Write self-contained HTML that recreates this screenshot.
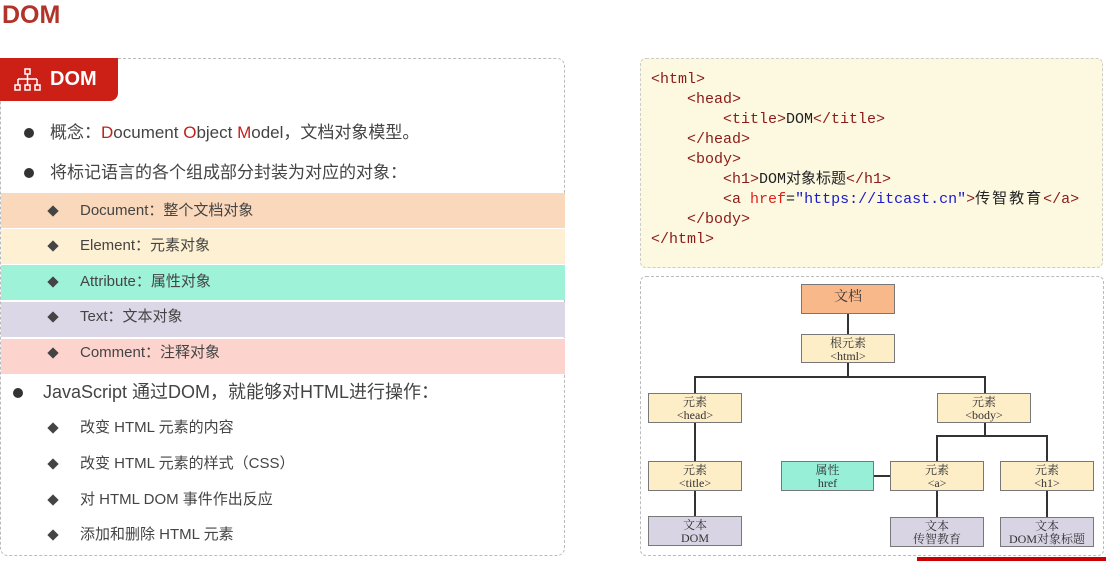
<!DOCTYPE html>
<html><head><meta charset="utf-8"><style>
body{margin:0;width:1106px;height:561px;background:#fff;position:relative;overflow:hidden;font-family:"Liberation Sans","Noto Sans CJK SC",sans-serif;color:#333}
.a{position:absolute}
.row{position:absolute;left:1px;width:564px;height:35px}
.it{position:absolute;left:80px;font-size:15px;color:#444;line-height:20px}
.dm{position:absolute;left:49px;width:8px;height:8px;background:#444;transform:rotate(45deg)}
.code{font-family:"Liberation Mono","Noto Sans CJK SC",monospace;font-size:15px;line-height:20px;color:#8b1a1a;position:absolute;white-space:pre}
.n{position:absolute;border:1px solid #777;box-sizing:border-box;text-align:center;font-family:"Liberation Serif","Noto Serif CJK SC",serif;font-size:12px;line-height:13px;color:#333;padding-top:2px}
.y{background:#fdeec8}.p{background:#d8d4e4}.g{background:#98efd8}
.l{position:absolute;background:#333}
</style></head><body>
<div class="a" style="left:2px;top:0;font-size:25px;font-weight:bold;color:#b23329;line-height:30px">DOM</div>
<div class="a" style="left:0;top:58px;width:565px;height:498px;border:1px dashed #bbb;border-radius:8px;box-sizing:border-box"></div>
<div class="a" style="left:0;top:58px;width:118px;height:43px;background:#cc1f16;border-radius:0 0 8px 0"></div>
<svg class="a" style="left:13px;top:67px" width="30" height="28" viewBox="0 0 30 28"><g fill="none" stroke="#fff" stroke-width="1.5"><rect x="12" y="2" width="5" height="5"/><path d="M14.5 7v5M5 12h19M5 12v6M14.5 12v6M24 12v6"/><rect x="2" y="18" width="5" height="5"/><rect x="12" y="18" width="5" height="5"/><rect x="22" y="18" width="5" height="5"/></g></svg>
<div class="a" style="left:50px;top:66px;color:#fff;font-weight:bold;font-size:20px;line-height:26px">DOM</div>

<div class="a" style="left:24px;top:128px;width:10px;height:10px;border-radius:50%;background:#333"></div>
<div class="a" style="left:50px;top:122px;font-size:17px;color:#444;line-height:22px">概念：<span style="color:#c0211a">D</span>ocument <span style="color:#c0211a">O</span>bject <span style="color:#c0211a">M</span>odel，文档对象模型。</div>
<div class="a" style="left:24px;top:168px;width:10px;height:10px;border-radius:50%;background:#333"></div>
<div class="a" style="left:50px;top:162px;font-size:17px;color:#444;line-height:22px">将标记语言的各个组成部分封装为对应的对象：</div>

<div class="row" style="top:193px;background:#fad8bb"></div><div class="dm" style="top:207px"></div><div class="it" style="top:201px">Document：整个文档对象</div>
<div class="row" style="top:229px;background:#fdf0d3"></div><div class="dm" style="top:242px"></div><div class="it" style="top:236px">Element：元素对象</div>
<div class="row" style="top:265px;background:#9ef2d8"></div><div class="dm" style="top:278px"></div><div class="it" style="top:272px">Attribute：属性对象</div>
<div class="row" style="top:302px;background:#dcd7e6"></div><div class="dm" style="top:313px"></div><div class="it" style="top:307px">Text：文本对象</div>
<div class="row" style="top:339px;background:#fdd3ce"></div><div class="dm" style="top:349px"></div><div class="it" style="top:343px">Comment：注释对象</div>

<div class="a" style="left:13px;top:388px;width:10px;height:10px;border-radius:50%;background:#333"></div>
<div class="a" style="left:43px;top:380px;font-size:18px;color:#444;line-height:24px">JavaScript 通过DOM，就能够对HTML进行操作：</div>
<div class="dm" style="top:424px"></div><div class="it" style="top:418px">改变 HTML 元素的内容</div>
<div class="dm" style="top:460px"></div><div class="it" style="top:454px">改变 HTML 元素的样式（CSS）</div>
<div class="dm" style="top:496px"></div><div class="it" style="top:490px">对 HTML DOM 事件作出反应</div>
<div class="dm" style="top:531px"></div><div class="it" style="top:525px">添加和删除 HTML 元素</div>

<div class="a" style="left:640px;top:58px;width:463px;height:210px;background:#fdf9e1;border:1px dashed #ccc;border-radius:6px;box-sizing:border-box"></div>
<div class="code" style="left:651px;top:70px">&lt;html&gt;
    &lt;head&gt;
        &lt;title&gt;<span style="color:#222">DOM</span>&lt;/title&gt;
    &lt;/head&gt;
    &lt;body&gt;
        &lt;h1&gt;<span style="color:#222">DOM对象标题</span>&lt;/h1&gt;
        &lt;a <span style="color:#e0201a">href</span><span style="color:#222">=</span><span style="color:#1a1acc">"https://itcast.cn"</span>&gt;<span style="color:#222;letter-spacing:2px">传智教育</span>&lt;/a&gt;
    &lt;/body&gt;
&lt;/html&gt;</div>

<div class="a" style="left:640px;top:276px;width:464px;height:280px;border:1px dashed #bbb;border-radius:6px;box-sizing:border-box"></div>
<div class="l" style="left:847px;top:314px;width:2px;height:20px"></div>
<div class="l" style="left:847px;top:363px;width:2px;height:14px"></div>
<div class="l" style="left:694px;top:376px;width:292px;height:2px"></div>
<div class="l" style="left:694px;top:376px;width:2px;height:17px"></div>
<div class="l" style="left:984px;top:376px;width:2px;height:17px"></div>
<div class="l" style="left:694px;top:423px;width:2px;height:38px"></div>
<div class="l" style="left:694px;top:491px;width:2px;height:25px"></div>
<div class="l" style="left:984px;top:423px;width:2px;height:13px"></div>
<div class="l" style="left:936px;top:435px;width:112px;height:2px"></div>
<div class="l" style="left:936px;top:435px;width:2px;height:26px"></div>
<div class="l" style="left:1046px;top:435px;width:2px;height:26px"></div>
<div class="l" style="left:874px;top:475px;width:16px;height:2px"></div>
<div class="l" style="left:936px;top:491px;width:2px;height:26px"></div>
<div class="l" style="left:1046px;top:491px;width:2px;height:26px"></div>

<div class="n" style="left:801px;top:284px;width:94px;height:30px;background:#f9b88a;font-size:14px;padding-top:6px">文档</div>
<div class="n y" style="left:801px;top:334px;width:94px;height:29px">根元素<br>&lt;html&gt;</div>
<div class="n y" style="left:648px;top:393px;width:94px;height:30px">元素<br>&lt;head&gt;</div>
<div class="n y" style="left:937px;top:393px;width:94px;height:30px">元素<br>&lt;body&gt;</div>
<div class="n y" style="left:648px;top:461px;width:94px;height:30px">元素<br>&lt;title&gt;</div>
<div class="n g" style="left:781px;top:461px;width:93px;height:30px">属性<br>href</div>
<div class="n y" style="left:890px;top:461px;width:94px;height:30px">元素<br>&lt;a&gt;</div>
<div class="n y" style="left:1000px;top:461px;width:94px;height:30px">元素<br>&lt;h1&gt;</div>
<div class="n p" style="left:648px;top:516px;width:94px;height:30px">文本<br>DOM</div>
<div class="n p" style="left:890px;top:517px;width:94px;height:30px">文本<br>传智教育</div>
<div class="n p" style="left:1000px;top:517px;width:94px;height:30px">文本<br>DOM对象标题</div>
<div class="a" style="left:917px;top:557px;width:189px;height:4px;background:#c00"></div>
</body></html>
